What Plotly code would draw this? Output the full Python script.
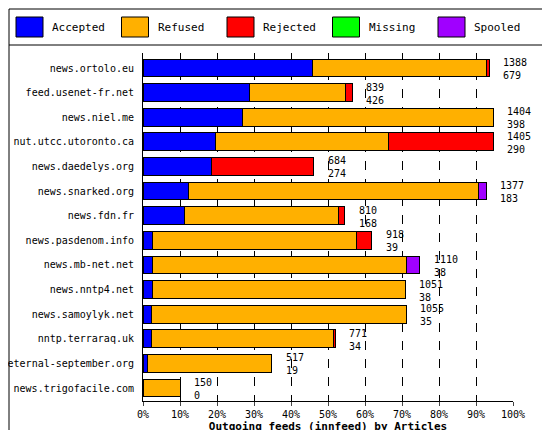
import plotly.graph_objects as go

hosts = ["news.ortolo.eu","feed.usenet-fr.net","news.niel.me","nut.utcc.utoronto.ca",
         "news.daedelys.org","news.snarked.org","news.fdn.fr","news.pasdenom.info",
         "news.mb-net.net","news.nntp4.net","news.samoylyk.net","nntp.terraraq.uk",
         "eternal-september.org","news.trigofacile.com"]
offered  = [1388,839,1404,1405,684,1377,810,918,1110,1051,1055,771,517,150]
accepted = [679,426,398,290,274,183,168,39,38,38,35,34,19,0]
refused  = [697,385,1006,694,0,1164,618,819,1017,1013,1020,729,495,150]
rejected = [12,28,0,421,410,0,24,60,0,0,0,8,0,0]
missing  = [0]*14
spooled  = [0,0,0,0,0,30,0,0,55,0,0,0,3,0]
tick_labels = ["0%","10%","20%","30%","40%","50%","60%","70%","80%","90%","100%"]
full_scale = 1484

series = [("Accepted",accepted,"#0000ff"),("Refused",refused,"#ffb000"),
          ("Rejected",rejected,"#ff0000"),("Missing",missing,"#00ff00"),
          ("Spooled",spooled,"#a000ff")]
F = "DejaVu Sans Mono"
W, H, L, R, T, B = 550, 430, 135, 45, 45, 37
pw, ph = W - L - R, H - T - B
def px(x): return (x - L) / pw
def py(y): return 1 - (y - T) / ph

fig = go.Figure()
shapes, annots = [], []
for i, (name, vals, col) in enumerate(series):
    fig.add_trace(go.Bar(y=hosts, x=vals, name=name, orientation="h",
                         marker=dict(color=col, line=dict(color="black", width=1)),
                         width=0.72, showlegend=False))
    x0 = 8 + i * 105.5
    shapes.append(dict(type="rect", xref="paper", yref="paper", x0=px(x0), x1=px(x0 + 27),
                       y0=py(29), y1=py(9), fillcolor=col, line=dict(color="black", width=1)))
    annots.append(dict(x=px(x0 + 34), y=py(20), xref="paper", yref="paper", text=name,
                       showarrow=False, xanchor="left", yanchor="middle",
                       font=dict(family=F, size=11, color="black")))
for h, o, a in zip(hosts, offered, accepted):
    annots.append(dict(x=o, y=h, text=f"{o}<br>{a}", showarrow=False, xanchor="left",
                       yshift=-1, xshift=12, font=dict(family=F, size=10, color="black"),
                       align="left"))
shapes += [dict(type="rect", xref="paper", yref="paper", x0=px(1), x1=px(549), y0=py(429), y1=py(1),
                line=dict(color="black", width=1)),
           dict(type="line", xref="paper", yref="paper", x0=px(1), x1=px(549), y0=py(37), y1=py(37),
                line=dict(color="black", width=1))]
fig.update_layout(
    width=W, height=H, barmode="stack", bargap=0.25,
    paper_bgcolor="white", plot_bgcolor="white",
    margin=dict(l=L, r=R, t=T, b=B, autoexpand=False),
    font=dict(family=F, size=10, color="black"),
    showlegend=False, shapes=shapes, annotations=annots,
    xaxis=dict(range=[0, full_scale], tickvals=[i*full_scale/10 for i in range(11)],
               ticktext=tick_labels, showgrid=True, gridcolor="black", griddash="dash",
               gridwidth=1, showline=True, linecolor="black", ticks="outside", ticklen=4,
               automargin=False,
               title=dict(text="<b>Outgoing feeds (innfeed) by Articles</b>",
                          font=dict(family=F, size=11), standoff=0), zeroline=False),
    yaxis=dict(autorange="reversed", showline=True, linecolor="black", automargin=False,
               ticks="", ticksuffix=" "),
)
fig.write_html("out.html")
